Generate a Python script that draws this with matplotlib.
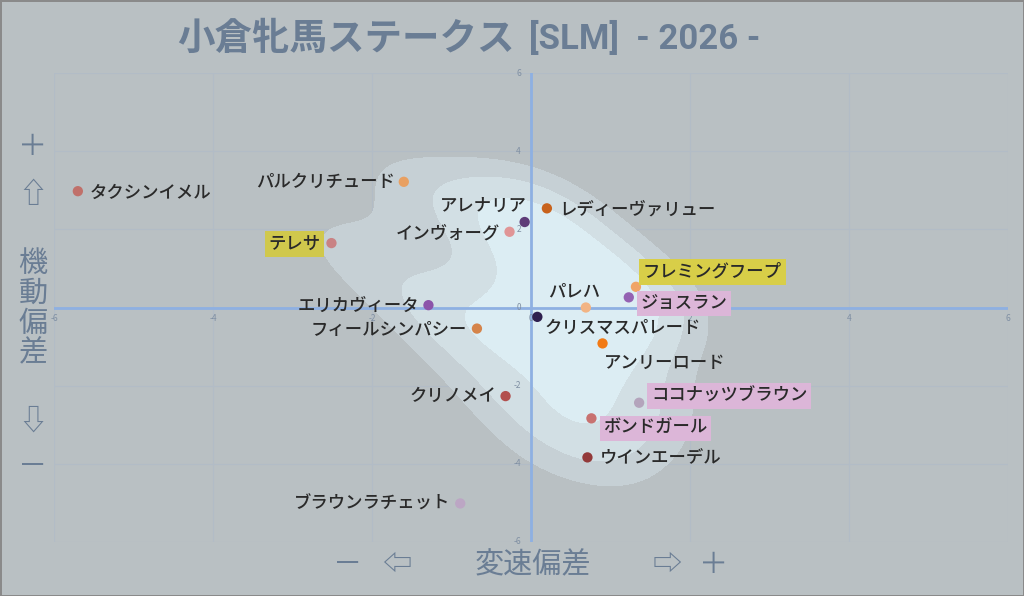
import numpy as np
import matplotlib
matplotlib.use("Agg")
import matplotlib.pyplot as plt

plt.rcParams['font.family'] = ['Noto Sans CJK JP', 'DejaVu Sans']

# horses and their (変速偏差, 機動偏差)
horses = ["タクシンイメル", "パルクリチュード", "テレサ", "インヴォーグ", "アレナリア",
          "レディーヴァリュー", "フレミングフープ", "ジョスラン", "パレハ", "クリスマスパレード",
          "アンリーロード", "エリカヴィータ", "フィールシンパシー", "クリノメイ",
          "ブラウンラチェット", "ココナッツブラウン", "ボンドガール", "ウインエーデル"]
speed_dev = [-5.70, -1.60, -2.51, -0.27, -0.08, 0.20, 1.32, 1.23, 0.69, 0.08,
             0.90, -1.29, -0.68, -0.32, -0.89, 1.36, 0.76, 0.71]
mobility_dev = [2.98, 3.22, 1.65, 1.94, 2.19, 2.54, 0.53, 0.26, 0.00, -0.24,
                -0.92, 0.06, -0.54, -2.27, -5.02, -2.44, -2.84, -3.84]
ticks = [-6, -4, -2, 0, 2, 4, 6]

# marker colours
dot_colors = ["#c0706a", "#e8a062", "#c98284", "#e09596", "#5e3c78", "#c8621c",
              "#f0a466", "#9462b2", "#f2b484", "#2e1f4e", "#f27a14", "#8c54aa",
              "#d5844a", "#b2504e", "#bca6c4", "#b4a4bc", "#c87270", "#933a3a"]
# label placement: (dx px, dy px, ha)
label_pos = [(12, -2, 'left'), (-9, 0, 'right'), (-11, -1, 'right'), (-10, -2, 'right'),
             (2, 16, 'right'), (12, -1, 'left'), (7, 15, 'left'), (12, -6, 'left'),
             (14, 16, 'right'), (7, -11, 'left'), (1, -19, 'left'), (-9, -1, 'right'),
             (-10, -1, 'right'), (-9, 0, 'right'), (-10, 0, 'right'), (12, 7, 'left'),
             (12, -10, 'left'), (12, -1, 'left')]
highlight = {"テレサ": "#d0c84c", "フレミングフープ": "#d8ce48", "ジョスラン": "#dcb6d8",
             "ココナッツブラウン": "#dcb6d8", "ボンドガール": "#dcb6d8"}

BG = "#b9c0c3"
fig = plt.figure(figsize=(10.24, 5.96), dpi=100, facecolor=BG,
                 edgecolor="#8a8a8a", linewidth=2)
ax = fig.add_axes([54 / 1024, 1 - 541.7 / 596, 954 / 1024, 468.4 / 596])
ax.set_facecolor(BG)
ax.set_xlim(-6, 6)
ax.set_ylim(-6, 6)
for s in ax.spines.values():
    s.set_visible(False)
ax.set_xticks(ticks)
ax.set_yticks(ticks)
ax.tick_params(length=0, labelbottom=False, labelleft=False)
ax.grid(True, color="#b2bcc6", linewidth=0.8)
ax.set_axisbelow(True)

# density cloud (gaussian kde, narrowed scott bandwidth)
pts = np.vstack([speed_dev, mobility_dev])
n = pts.shape[1]
cov = np.cov(pts) * (0.75 * n ** (-1 / 6)) ** 2
inv = np.linalg.inv(cov)
gx, gy = np.meshgrid(np.linspace(-6, 6, 300), np.linspace(-6, 6, 300))
dens = np.zeros_like(gx)
for px, py in pts.T:
    dx, dy = gx - px, gy - py
    dens += np.exp(-0.5 * (inv[0, 0] * dx * dx + 2 * inv[0, 1] * dx * dy + inv[1, 1] * dy * dy))
dens /= dens.max()
ax.contourf(gx, gy, dens, levels=[0.3, 0.48, 0.68, 1.01],
            colors=["#c6d0d5", "#d2dfe4", "#dcedf3"], zorder=1)

ax.axhline(0, color="#8eb0e2", linewidth=2, zorder=2)
ax.axvline(0, color="#8eb0e2", linewidth=2, zorder=2)

for t in ticks:
    ax.annotate(str(t), (t, 0), xytext=(0, -11), textcoords="offset pixels",
                ha="center", va="center", fontsize=6, color="#7f8fa3", zorder=3)
    ax.annotate(str(t), (0, t), xytext=(-10, 0), textcoords="offset pixels",
                ha="right", va="center", fontsize=6, color="#7f8fa3", zorder=3)

ax.scatter(speed_dev, mobility_dev, s=55, c=dot_colors, edgecolors="none", zorder=4)

for name, x, y, (dx, dy, ha) in zip(horses, speed_dev, mobility_dev, label_pos):
    box = None
    if name in highlight:
        box = dict(boxstyle="square,pad=0.22", facecolor=highlight[name], edgecolor="none")
    ax.annotate(name, (x, y), xytext=(dx, dy), textcoords="offset pixels",
                ha=ha, va="center", fontsize=12.5, fontweight="medium",
                color="#2a2a2a", bbox=box, zorder=5)

# title
TC = "#6a7d94"
fig.text(177 / 1024, 1 - 38 / 596, "小倉牝馬ステークス", fontsize=27, fontweight="bold",
         color=TC, ha="left", va="center")
fig.text(529 / 1024, 1 - 38 / 596, "[SLM]  - 2026 -", fontsize=25, fontweight="bold",
         color=TC, ha="left", va="center", family=["Roboto", "DejaVu Sans"])

# axis captions
for txt, yy in [("＋", 147), ("⇧", 195), ("機", 264), ("動", 294), ("偏", 324),
                ("差", 353), ("⇩", 422), ("－", 467)]:
    fig.text(33 / 1024, 1 - yy / 596, txt, fontsize=21, color=TC, ha="center", va="center")
for txt, xx in [("－", 348), ("⇦", 397), ("変速偏差", 533), ("⇨", 667), ("＋", 714)]:
    fig.text(xx / 1024, 1 - 565 / 596, txt, fontsize=21, color=TC, ha="center", va="center")

fig.savefig("out.png", dpi=100, facecolor=BG, edgecolor="#8a8a8a")
